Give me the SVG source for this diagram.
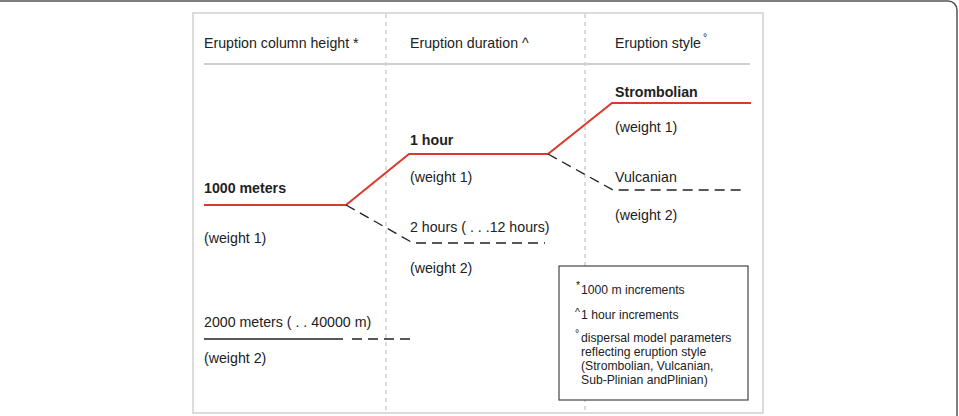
<svg xmlns="http://www.w3.org/2000/svg" width="959" height="416" viewBox="0 0 959 416">
<style>
text{font-family:"Liberation Sans",Arial,sans-serif;fill:#222;}
.t{font-size:14.2px;}
.b{font-size:14.2px;font-weight:bold;}
.s{font-size:12.2px;}
.sup{font-size:10.5px;}
.red{fill:none;stroke:#d83a2c;stroke-width:2;}
.dash{fill:none;stroke:#222;stroke-width:1.3;stroke-dasharray:10 6;}
.grid{fill:none;stroke:#cfcfcf;stroke-width:1.5;stroke-dasharray:4 4;}
</style>
<rect x="-10" y="1" width="967" height="440" rx="9" fill="#fff" stroke="#555" stroke-width="1.5"/>
<rect x="193" y="13" width="570" height="400" fill="#fff" stroke="#cfcfcf" stroke-width="1.5"/>
<g id="grid">
<line class="grid" x1="386" y1="14" x2="386" y2="412"/>
<line class="grid" x1="585" y1="14" x2="585" y2="412"/>
<line x1="204" y1="64" x2="750" y2="64" stroke="#cfcfcf" stroke-width="1.8"/>
</g>
<g id="headers">
<text class="t" x="204" y="48">Eruption column height *</text>
<text class="t" x="410" y="48">Eruption duration ^</text>
<text class="t" x="615" y="48">Eruption style</text>
<text class="sup" x="703" y="41">°</text>
</g>
<g id="connectors">
<polyline class="red" points="204,205 346,205 409,154 548,154 612,103 751,103"/>
<polyline class="dash" points="346,205 413,243 545,243"/>
<polyline class="dash" points="548,154 613,190 745,190"/>
<line x1="204" y1="339" x2="343" y2="339" stroke="#222" stroke-width="1.3"/>
<line class="dash" x1="352" y1="339" x2="410" y2="339"/>
</g>
<g id="node-1000m">
<text class="b" x="204" y="193">1000 meters</text>
<text class="t" x="204" y="243">(weight 1)</text>
</g>
<g id="node-2000m">
<text class="t" x="204" y="327">2000 meters ( . . 40000 m)</text>
<text class="t" x="204" y="363">(weight 2)</text>
</g>
<g id="node-1hour">
<text class="b" x="410" y="145">1 hour</text>
<text class="t" x="410" y="182">(weight 1)</text>
</g>
<g id="node-2hours">
<text class="t" x="410" y="232">2 hours ( . . .12 hours)</text>
<text class="t" x="410" y="273">(weight 2)</text>
</g>
<g id="node-strombolian">
<text class="b" x="615" y="97">Strombolian</text>
<text class="t" x="615" y="132">(weight 1)</text>
</g>
<g id="node-vulcanian">
<text class="t" x="615" y="182">Vulcanian</text>
<text class="t" x="615" y="220">(weight 2)</text>
</g>
<g id="legend">
<rect x="559" y="266" width="189" height="134" fill="#fff" stroke="#444" stroke-width="1.2"/>
<text class="sup" x="576" y="289">*</text>
<text class="s" x="581" y="294">1000 m increments</text>
<text class="sup" x="575" y="316">^</text>
<text class="s" x="581" y="319">1 hour increments</text>
<text class="sup" x="575" y="337">°</text>
<text class="s" x="581" y="342">dispersal model parameters</text>
<text class="s" x="581" y="356">reflecting eruption style</text>
<text class="s" x="581" y="370">(Strombolian, Vulcanian,</text>
<text class="s" x="581" y="384">Sub-Plinian andPlinian)</text>
</g>
</svg>
